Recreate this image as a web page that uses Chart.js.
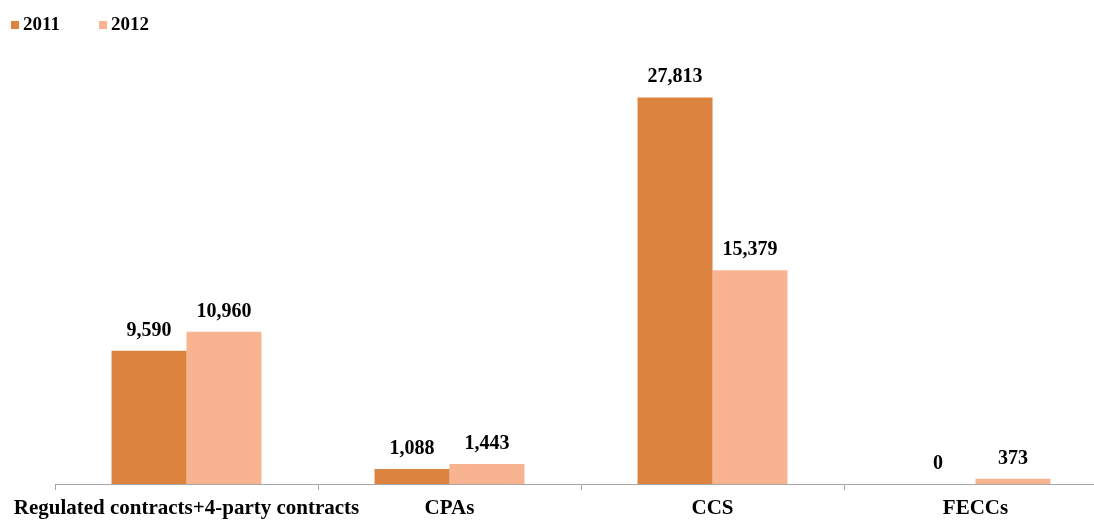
<!DOCTYPE html>
<html>
<head>
<meta charset="utf-8">
<script src="https://cdn.jsdelivr.net/npm/chart.js@4"></script>
<style>
html,body{margin:0;padding:0;background:#fff;overflow:hidden;}
#wrap{position:relative;width:1108px;height:520px;}
</style>
</head>
<body>
<div id="wrap"><canvas id="mycanvas"></canvas></div>
<script>
var categories=['Regulated contracts+4-party contracts','CPAs','CCS','FECCs'];
var values2011=[9590,1088,27813,0];
var values2012=[10960,1443,15379,373];
var seriesNames=['2011','2012'];
var seriesColors=['#DC833F','#F8B490'];

// legend drawn top-left like the original
var topLegend={
	id:'topLegend',
	afterDraw:function(chart){
		var ctx=chart.ctx;
		ctx.save();
		ctx.font='bold 19px "Liberation Serif"';
		ctx.textBaseline='alphabetic';
		ctx.textAlign='left';
		var x=11;
		chart.data.datasets.forEach(function(ds){
			ctx.fillStyle=ds.backgroundColor;
			ctx.fillRect(x,21,8,8);
			ctx.fillStyle='#000';
			ctx.fillText(ds.label,x+12,30);
			x+=88;
		});
		ctx.restore();
	}
};

var barLabels={
	id:'barLabels',
	afterDatasetsDraw:function(chart){
		var ctx=chart.ctx;
		ctx.save();
		ctx.font='bold 20px "Liberation Serif"';
		ctx.fillStyle='#000';
		ctx.textAlign='center';
		ctx.textBaseline='alphabetic';
		chart.data.datasets.forEach(function(ds,i){
			var meta=chart.getDatasetMeta(i);
			meta.data.forEach(function(bar,j){
				ctx.fillText(ds.data[j].toLocaleString('en-US'),bar.x,bar.y-15);
			});
		});
		ctx.restore();
	}
};

var chartdata={
	labels:categories,
	datasets:[
		{
			label:seriesNames[0],
			backgroundColor:seriesColors[0],
			data:values2011
		},
		{
			label:seriesNames[1],
			backgroundColor:seriesColors[1],
			data:values2012
		}
	]
};

var ctx=document.getElementById('mycanvas');
var barGraph=new Chart(ctx,{
	type:'bar',
	data:chartdata,
	plugins:[topLegend,barLabels],
	options:{
		responsive:true,
		maintainAspectRatio:false,
		animation:false,
		layout:{padding:{left:0,right:0,top:67,bottom:0}},
		datasets:{bar:{categoryPercentage:0.57,barPercentage:1}},
		plugins:{
			tooltip:{enabled:false},
			legend:{display:false}
		},
		scales:{
			y:{display:false,min:0,max:30000},
			x:{
				grid:{display:true,drawOnChartArea:false,offset:true,tickLength:6,color:'#a6a6a6'},
				border:{color:'#a6a6a6'},
				ticks:{color:'#000',padding:6,maxRotation:0,minRotation:0,autoSkip:false,
					font:{family:'"Liberation Serif"',size:21,weight:'bold'}},
				afterFit:function(scale){
					scale.paddingLeft=55;
					scale.paddingRight=1;
					scale.height=36;
				}
			}
		}
	}
});
</script>
</body>
</html>
